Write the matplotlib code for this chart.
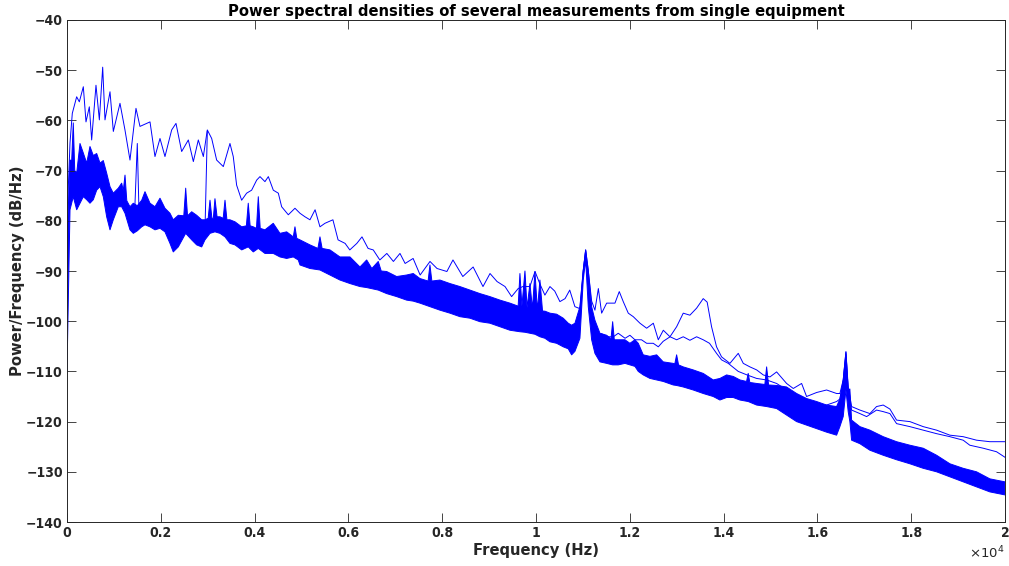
import matplotlib
matplotlib.use("Agg")
import matplotlib.pyplot as plt
import numpy as np

# ---- data ----
# upper edge of the dense bundle of traces
top_freq = [0, 64, 100, 134, 165, 207, 277, 348, 420, 490, 561, 633, 704, 774, 846, 917, 987, 1094, 1166,
            1200, 1237, 1275, 1343, 1414, 1499, 1593, 1663, 1770, 1876, 1983, 2089, 2196, 2266, 2373, 2490,
            2531, 2570, 2659, 2765, 2872, 2942, 3010, 3049, 3090, 3120, 3155, 3200, 3262, 3330, 3369, 3410,
            3475, 3582, 3725, 3825, 3865, 3905, 3972, 4040, 4079, 4120, 4221, 4398, 4541, 4684, 4825, 4861,
            4900, 4968, 5181, 5350, 5394, 5440, 5607, 5820, 6034, 6247, 6390, 6500, 6637, 6700, 6816, 7029,
            7242, 7383, 7526, 7700, 7739, 7780, 7952, 8166, 8379, 8592, 8805, 9018, 9232, 9445, 9620, 9658,
            9700, 9765, 9810, 9871, 9925, 9978, 10030, 10084, 10140, 10191, 10298, 10440, 10581, 10688,
            10760, 10831, 10937, 11008, 11059, 11115, 11187, 11257, 11364, 11507, 11600, 11635, 11670, 11754,
            11897, 12003, 12110, 12181, 12287, 12430, 12573, 12713, 12926, 12960, 12999, 13040, 13140, 13353,
            13566, 13779, 13922, 14065, 14206, 14349, 14490, 14525, 14560, 14705, 14880, 14918, 14960, 15131,
            15344, 15557, 15770, 15984, 16197, 16410, 16480, 16551, 16609, 16657, 16693, 16730, 16907, 17120,
            17404, 17689, 17973, 18257, 18542, 18826, 19109, 19395, 19678, 20000]
top_db = [-85, -67.9, -68, -60.5, -70, -70.5, -64.6, -66.5, -68.5, -65.2, -67, -66.6, -68.5, -68, -70.5,
          -73.2, -74.5, -73.5, -72.5, -74, -70.9, -76, -77.2, -76.5, -77, -75.9, -74.2, -76.5, -77.2, -75.5,
          -77.5, -78.5, -79.8, -78.9, -79, -73.5, -79, -78.2, -78.9, -79.8, -79.8, -79.5, -75.9, -79.5,
          -79.5, -75.6, -79.2, -79.2, -79.5, -75.9, -79.8, -79.8, -80.2, -81.2, -81, -76.5, -81, -81.2,
          -81.5, -75.2, -81.5, -81.8, -80.5, -82.5, -82.2, -83.2, -81.2, -83.5, -83.8, -84.8, -85.5, -83.2,
          -85.5, -85.8, -87.2, -87.2, -89.2, -87.8, -89.5, -88.1, -90, -90.1, -91.1, -90.8, -90.5, -91.5,
          -92, -88.8, -92, -91.8, -92.5, -93.1, -93.8, -94.5, -95.1, -95.8, -96.4, -97, -90.5, -97, -90,
          -97.3, -92.5, -97.5, -90.1, -97.8, -91.8, -98, -98, -98.4, -98.6, -99.4, -100.4, -100.8, -100.4,
          -97.1, -89.8, -85.8, -89.8, -97.1, -99.8, -102.4, -102.8, -103.5, -100.1, -103.7, -103.7, -103.7,
          -104.4, -103.7, -104.4, -106.7, -107, -106.7, -108.1, -108.4, -108.5, -106.7, -108.7, -109.1,
          -109.7, -110.4, -111.7, -111.4, -110.7, -111, -111.7, -112, -110.4, -112.2, -112.4, -112.6,
          -109.1, -112.7, -112.8, -113.1, -114.4, -115.4, -116, -116.7, -117, -115.5, -111.7, -106.1,
          -113.7, -113.5, -119.7, -121, -121.7, -123, -124, -124.7, -125.3, -126.7, -128.4, -129.3, -130,
          -131.4, -132]

# lower edge of the dense bundle of traces
bot_freq = [0, 64, 134, 207, 277, 348, 420, 490, 561, 633, 704, 774, 846, 917, 987, 1094, 1166, 1237,
            1343, 1414, 1499, 1593, 1663, 1770, 1876, 1983, 2089, 2196, 2266, 2373, 2531, 2659, 2765,
            2872, 2942, 3049, 3155, 3262, 3369, 3475, 3582, 3725, 3865, 3972, 4079, 4221, 4398, 4541,
            4684, 4825, 4931, 4968, 5181, 5394, 5607, 5820, 6034, 6247, 6390, 6637, 6816, 7029, 7242,
            7383, 7526, 7739, 7952, 8166, 8379, 8592, 8805, 9018, 9232, 9445, 9658, 9765, 9871, 9978,
            10084, 10191, 10298, 10440, 10581, 10688, 10760, 10831, 10937, 11008, 11059, 11115, 11187,
            11257, 11364, 11507, 11635, 11754, 11897, 12003, 12110, 12181, 12287, 12430, 12573, 12713,
            12926, 12999, 13140, 13353, 13566, 13779, 13922, 14065, 14206, 14349, 14525, 14705, 14918,
            15131, 15344, 15557, 15770, 15984, 16197, 16410, 16480, 16551, 16609, 16657, 16693, 16730,
            16907, 17120, 17404, 17689, 17973, 18257, 18542, 18826, 19109, 19395, 19678, 20000]
bot_db = [-110, -77.8, -75.2, -77.8, -76.5, -75.2, -75.8, -76.5, -75.8, -73.9, -73.2, -75.2, -79.2,
          -81.8, -79.8, -77.2, -77.2, -78.5, -81.8, -82.5, -82, -81.2, -80.8, -81.2, -81.8, -81.5,
          -82.2, -84.5, -86.2, -85.2, -82.5, -83.8, -84.8, -85.2, -83.8, -82.5, -82.2, -82.5,
          -83.2, -84.5, -84.8, -85.8, -85.2, -86.2, -85.5, -86.5, -86.5, -87.2, -87.5, -87.2,
          -87.8, -88.8, -89.5, -89.8, -90.8, -91.8, -92.5, -93.1, -93.3, -93.8, -94.5, -95.1,
          -95.8, -96, -96.4, -97.1, -97.8, -98.4, -99.1, -99.4, -100.1, -100.4, -101.1, -101.8,
          -102.1, -102.2, -102.4, -102.6, -103.1, -103.4, -104.1, -104.4, -105.1, -105.5, -106.7,
          -106, -103.4, -91.8, -87.8, -97.1, -103.7, -106.4, -108.1, -108.4, -108.7, -108.7,
          -108.4, -108.7, -109, -110, -110.7, -111.4, -111.7, -112, -112.7, -112.8, -113.1,
          -113.7, -114.4, -115, -115.7, -115.2, -115.2, -115.7, -116, -116.7, -117, -117.4,
          -118.7, -120, -120.7, -121.4, -122.1, -122.7, -121, -119, -113.7, -118, -120, -123.7,
          -124.4, -125.7, -126.7, -127.6, -128.4, -129.3, -130, -131, -132, -133, -134, -134.6]

# highest single trace
a_freq = [0, 21, 64, 113, 206, 263, 348, 405, 476, 526, 618, 690, 761, 810, 917, 988, 1130, 1236, 1343,
          1471, 1556, 1770, 1876, 1983, 2089, 2232, 2324, 2445, 2587, 2694, 2800, 2907, 2992, 3085,
          3191, 3333, 3475, 3545, 3617, 3724, 3830, 3937, 4044, 4115, 4221, 4293, 4399, 4506, 4577,
          4719, 4861, 4968, 5074, 5181, 5290, 5394, 5500, 5670, 5780, 5930, 6030, 6180, 6290, 6420,
          6530, 6670, 6820, 6960, 7100, 7210, 7380, 7530, 7740, 7890, 8100, 8230, 8440, 8660, 8870,
          9020, 9170, 9340, 9480, 9620, 9720, 9870, 9980, 10080, 10190, 10298, 10400, 10510, 10620,
          10720, 10830, 10937, 11008, 11059, 11115, 11187, 11257, 11330, 11400, 11507, 11684, 11776,
          11861, 11968, 12075, 12217, 12360, 12502, 12608, 12715, 12857, 12999, 13140, 13282, 13425,
          13566, 13650, 13744, 13850, 13957, 14135, 14313, 14420, 14562, 14705, 14846, 14989, 15131,
          15344, 15486, 15664, 15770, 15984, 16197, 16410, 16480, 16551, 16609, 16657, 16730, 16907,
          17120, 17262, 17404, 17547, 17689, 17973, 18257, 18542, 18826, 19109, 19395, 19678, 20000]
a_db = [-90, -75, -64.5, -58.6, -55.3, -56.3, -53.3, -60.3, -57.3, -63.9, -53, -59.9, -49.4, -59.9,
        -54.3, -62.2, -56.6, -61.9, -67.9, -57.6, -61.2, -60.3, -67.2, -63.6, -67.2, -61.9, -60.6,
        -66.2, -63.9, -68.2, -63.9, -67.2, -61.9, -63.6, -67.9, -69.2, -64.6, -67.2, -72.9, -75.9,
        -74.5, -73.9, -71.9, -71.2, -72.2, -71.2, -73.9, -74.5, -77.2, -78.8, -77.5, -78.5, -79.2,
        -79.8, -77.8, -81.2, -80.5, -79.8, -83.8, -84.5, -85.8, -84.5, -83.2, -85.5, -85.8, -87.8,
        -86.5, -88.1, -86.5, -88.5, -87.5, -90.8, -88.1, -89.5, -90.1, -87.8, -91.1, -89.2, -93.1,
        -90.5, -92.1, -93.1, -95.1, -93.5, -93.1, -93.1, -90.1, -92.5, -94.8, -93.1, -94, -96.1,
        -95.5, -93.8, -97.1, -97.5, -90, -85.8, -90, -96, -97.8, -93.5, -98.4, -96.4, -96.4, -94.1,
        -96.1, -98.4, -99.1, -100.4, -101.4, -100.4, -103.7, -101.8, -103.1, -101.1, -98.4, -98.8,
        -97.4, -95.5, -96.2, -101.1, -105.1, -107.1, -108.4, -106.4, -108.4, -109.1, -109.7,
        -110.7, -111.1, -110.1, -112.4, -113.4, -112.4, -115, -114.2, -113.7, -114.4, -114.4,
        -111.7, -106.1, -113, -117, -117.7, -118.4, -117, -116.7, -117.5, -119.7, -120, -121,
        -121.7, -122.7, -123, -123.7, -124, -124]

# trace that jumps up out of the bundle
b_freq = [1300, 1440, 1499, 1540, 1700, 2000, 2400, 2800, 2942, 2992]
b_db = [-79, -79, -64.6, -80, -80, -81, -81, -82, -82, -62.2]

# second trace above the bundle at high frequency
c_freq = [10084, 10298, 10500, 10760, 10831, 10937, 11008, 11059, 11115, 11187, 11290, 11400, 11507,
          11650, 11754, 11900, 12003, 12110, 12250, 12360, 12500, 12608, 12713, 12860, 12999, 13140,
          13282, 13425, 13566, 13700, 13850, 13957, 14100, 14313, 14500, 14705, 14918, 15131, 15344,
          15557, 15770, 15984, 16197, 16410, 16480, 16551, 16609, 16657, 16730, 16907, 17050, 17262,
          17400, 17547, 17689, 17973, 18257, 18542, 18826, 19109, 19250, 19537, 19820, 20000]
c_db = [-97.5, -99.1, -99.5, -101.4, -101.4, -99, -90, -86, -92, -100, -103.1, -102.5, -103.1, -103.1,
        -102.4, -103.4, -102.8, -103.7, -103.7, -104.4, -104.4, -105.1, -104, -103.1, -103.7, -103.1,
        -103.8, -103.1, -103.7, -104.4, -106.4, -107.7, -108.4, -110, -110.7, -111.4, -111.7, -112.4,
        -113.7, -115.7, -116.4, -117, -116.7, -116, -115.5, -112, -106.5, -113.5, -117.7, -118.4, -119,
        -117.7, -118, -118.4, -120.4, -121, -121.7, -122.4, -123, -123.7, -124.7, -125.3, -126, -127.1]

x_ticks = [0, 2000, 4000, 6000, 8000, 10000, 12000, 14000, 16000, 18000, 20000]
x_tick_labels = ["0", "0.2", "0.4", "0.6", "0.8", "1", "1.2", "1.4", "1.6", "1.8", "2"]
y_ticks = [-140, -130, -120, -110, -100, -90, -80, -70, -60, -50, -40]

# ---- figure ----
plt.rcParams['font.family'] = ['DejaVu Sans']
fig = plt.figure(figsize=(10.09, 5.66), dpi=100)
ax = fig.add_axes([0.0664, 0.0777, 0.9296, 0.887])

blue = (0, 0, 1)
lw = 0.7
ax.fill(list(top_freq) + list(bot_freq[::-1]), list(top_db) + list(bot_db[::-1]),
        color=blue, linewidth=0)
ax.plot(top_freq, top_db, color=blue, lw=lw)
ax.plot(bot_freq, bot_db, color=blue, lw=lw)
ax.plot(b_freq, b_db, color=blue, lw=lw)
ax.plot(c_freq, c_db, color=blue, lw=lw)
ax.plot(a_freq, a_db, color=blue, lw=lw)

ax.set_xlim(0, 20000)
ax.set_ylim(-140, -40)
ax.set_xticks(x_ticks)
ax.set_xticklabels(x_tick_labels)
ax.set_yticks(y_ticks)

dark = (0.15, 0.15, 0.15)
for lab in ax.get_xticklabels() + ax.get_yticklabels():
    lab.set_fontweight('bold')
    lab.set_fontsize(10)
    lab.set_fontstretch('condensed')
    lab.set_color(dark)

ax.tick_params(direction='in', length=6.5, width=0.6, top=True, right=True,
               colors=dark, pad=3)
for sp in ax.spines.values():
    sp.set_color(dark)
    sp.set_linewidth(0.7)

ax.set_xlabel("Frequency (Hz)", fontsize=11.8, fontweight='bold', fontstretch='condensed',
              color=dark, labelpad=2)
ax.set_ylabel("Power/Frequency (dB/Hz)", fontsize=11.8, fontweight='bold', fontstretch='condensed',
              color=dark, labelpad=1)
ax.set_title("Power spectral densities of several measurements from single equipment",
             fontsize=11.8, fontweight='bold', fontstretch='condensed', pad=3)
ax.text(0.9995, -0.045, r"$\times10^{4}$", transform=ax.transAxes, ha='right', va='top',
        fontsize=9.5, color=dark)

fig.savefig("out.png", dpi=100)
